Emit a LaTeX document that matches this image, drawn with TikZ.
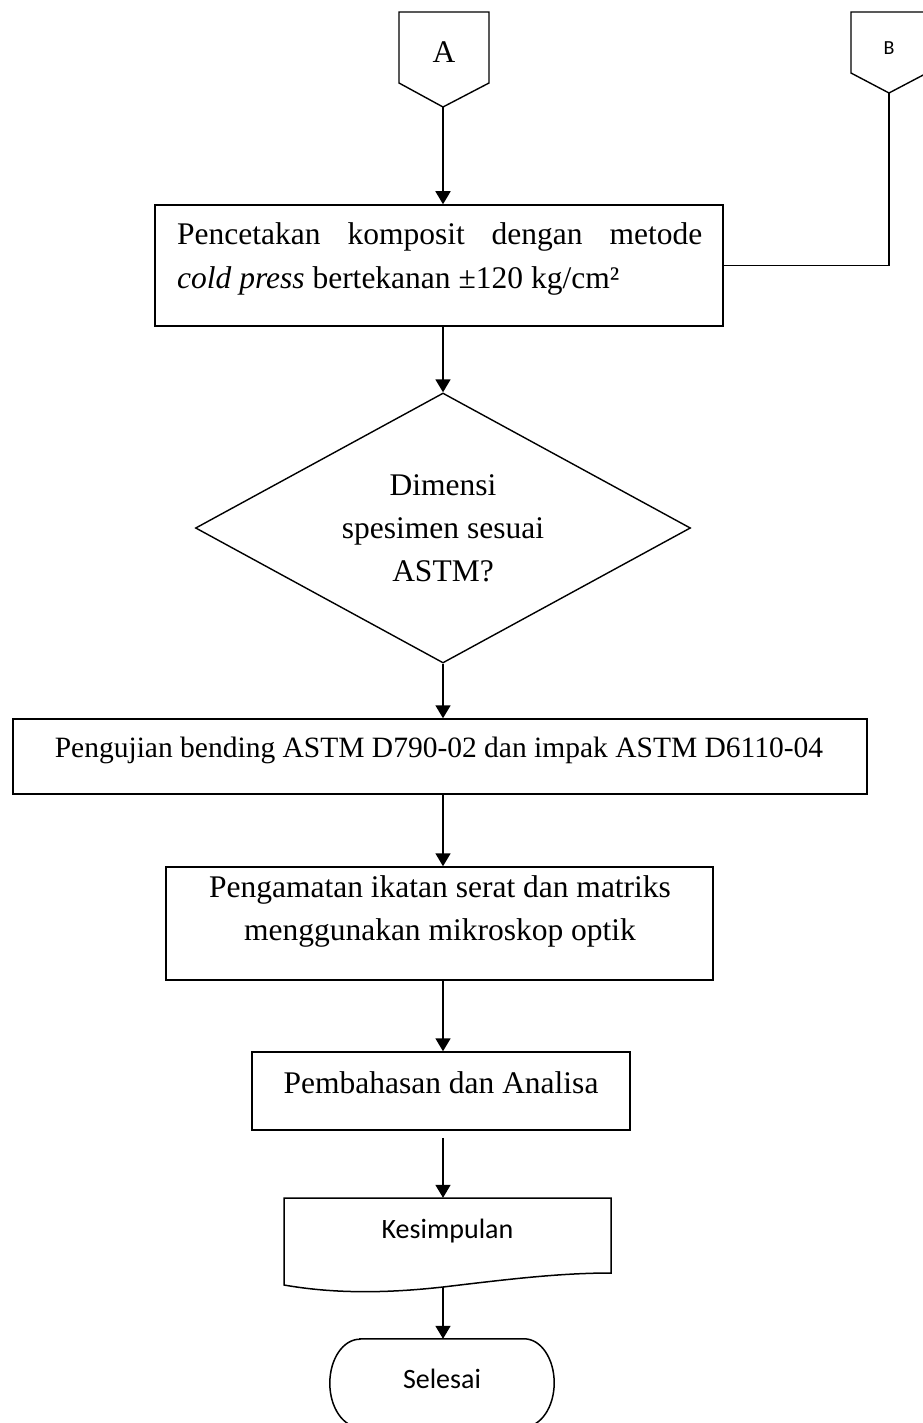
\documentclass[tikz,border=0pt]{standalone}
\usepackage{fontspec}
\setmainfont{Liberation Serif}
\newfontfamily\calibri{Carlito}
\usetikzlibrary{arrows.meta,shapes.geometric}
\begin{document}
\begin{tikzpicture}[x=1pt,y=-1pt,
 box/.style={draw, line width=1.5pt, rectangle, inner sep=0pt},
 arr/.style={line width=1.8pt, -{Triangle[length=13pt,width=15pt]}},
 tnr/.style={font=\fontsize{31.5}{43}\selectfont, inner sep=0pt},
 cal/.style={font=\calibri\fontsize{28}{34}\selectfont, inner sep=0pt},
 thin/.style={line width=1.4pt, line join=miter}]
\useasboundingbox (0,0) rectangle (922,1423);
% connector A
\draw[thin] (399,12) -- (489,12) -- (489,83) -- (443,107) -- (399,83) -- cycle;
\coordinate (Ap) at (443,107);
\node[tnr] (A) at (444,52) {A};
% connector B
\draw[thin] (851,12) -- (927,12) -- (927,73) -- (889,93) -- (851,73) -- cycle;
\coordinate (Bp) at (889,93);
\node[cal, font=\calibri\fontsize{20}{24}\selectfont] (B) at (889,48) {B};
% box 1
\node[box, minimum width=568pt, minimum height=121pt] (b1) at (439,265.5) {};
\node[tnr, anchor=base west] (t1a) at (177,245) {\makebox[525pt][s]{Pencetakan komposit dengan metode}};
\node[tnr, anchor=base west] (t1b) at (177,288) {\textit{cold press} bertekanan ±120 kg/cm²};
\draw[thin] (Bp) |- (b1.east);
% diamond
\node[draw, diamond, thin, minimum width=495pt, minimum height=270pt, inner sep=0pt, aspect=1.83, align=center, tnr] (d) at (443,528) {Dimensi\\spesimen sesuai\\ASTM?};
% box 2
\node[box, minimum width=854pt, minimum height=75pt] (b2) at (440,756.5) {};
\node[tnr, font=\fontsize{29.5}{40}\selectfont, anchor=base] (t2) at (439,757) {Pengujian bending ASTM D790-02 dan impak ASTM D6110-04};
% box 3
\node[box, minimum width=547pt, minimum height=113pt] (b3) at (439.5,923.5) {};
\node[tnr, align=center] (t3) at (440,911) {Pengamatan ikatan serat dan matriks\\menggunakan mikroskop optik};
% box 4
\node[box, minimum width=378pt, minimum height=78pt] (b4) at (441,1091) {};
\node[tnr, anchor=base] (t4) at (441,1093) {Pembahasan dan Analisa};
% document shape
\node[inner sep=0pt, minimum width=327pt, minimum height=90pt] (kes) at (447.5,1243) {};
\draw[line width=1.5pt, line join=miter] (284,1285) -- (284,1198) -- (611,1198) -- (611,1273)
  .. controls (560,1273) and (510,1279) .. (443,1287)
  .. controls (380,1294) and (330,1293) .. (284,1285) -- cycle;
\node[cal, anchor=base] (kt) at (447.5,1238) {Kesimpulan};
\coordinate (kb) at (443,1287);
% terminal
\node[inner sep=0pt, minimum width=224pt, minimum height=88pt] (sel) at (442,1383) {};
\draw[line width=1.5pt] ([xshift=30pt]sel.north west) -- ([xshift=-30pt]sel.north east)
  arc[start angle=90,end angle=-90,x radius=30pt,y radius=44pt]
  -- ([xshift=30pt]sel.south west)
  arc[start angle=270,end angle=90,x radius=30pt,y radius=44pt] -- cycle;
\node[cal, anchor=base] (st) at (442,1388) {Selesai};
% arrows
\draw[arr] (Ap) -- (Ap |- b1.north);
\draw[arr] (Ap |- b1.south) -- (d.north);
\draw[arr] (d.south) -- (d.south |- b2.north);
\draw[arr] (d.south |- b2.south) -- (d.south |- b3.north);
\draw[arr] (d.south |- b3.south) -- (d.south |- b4.north);
\draw[arr, shorten <=7pt] (d.south |- b4.south) -- (d.south |- kes.north);
\draw[arr] (kb) -- (kb |- sel.north);
\end{tikzpicture}
\end{document}
